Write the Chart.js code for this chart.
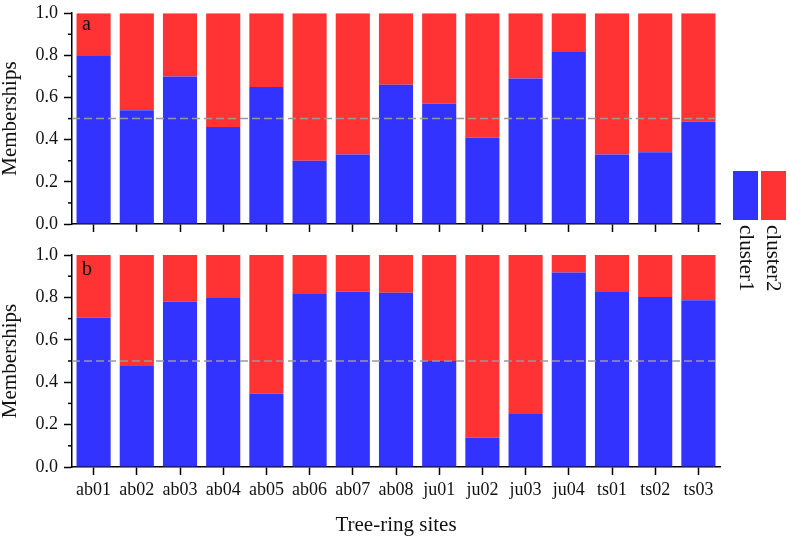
<!DOCTYPE html>
<html><head><meta charset="utf-8">
<script src="https://cdn.jsdelivr.net/npm/chart.js@4.4.1/dist/chart.umd.min.js"></script>
<style>
html,body{margin:0;padding:0;background:#fff;}
#wrap{position:relative;width:789px;height:541px;overflow:hidden;font-family:'Liberation Serif','Times New Roman',serif;}
#c1{position:absolute;left:0;top:0;}
#c2{position:absolute;left:0;top:240px;}
.box{position:absolute;top:171px;width:25px;height:49px;}
.lt{position:absolute;top:225px;writing-mode:vertical-rl;font-size:21px;line-height:21px;color:#111;white-space:nowrap;}
</style></head><body>
<div id="wrap">
<canvas id="c1" width="789" height="240"></canvas>
<canvas id="c2" width="789" height="301"></canvas>
<div class="box" style="left:733px;background:#3333ff"></div>
<div class="box" style="left:761px;background:#ff3333"></div>
<div class="lt" id="lg1" style="left:736px"></div>
<div class="lt" id="lg2" style="left:763px"></div>
</div>
<script>
// ---- data ----
const sites = ['ab01','ab02','ab03','ab04','ab05','ab06','ab07','ab08','ju01','ju02','ju03','ju04','ts01','ts02','ts03'];
const seriesNames = ['cluster1','cluster2'];
const cluster1A = [0.80,0.54,0.70,0.46,0.65,0.30,0.33,0.66,0.57,0.41,0.69,0.82,0.33,0.34,0.485];
const cluster2A = [0.20,0.46,0.30,0.54,0.35,0.70,0.67,0.34,0.43,0.59,0.31,0.18,0.67,0.66,0.515];
const cluster1B = [0.705,0.48,0.78,0.797,0.345,0.82,0.827,0.822,0.50,0.139,0.254,0.918,0.825,0.802,0.787];
const cluster2B = [0.295,0.52,0.22,0.203,0.655,0.18,0.173,0.178,0.50,0.861,0.746,0.082,0.175,0.198,0.213];
const minorYTicks = [0.1,0.3,0.5,0.7,0.9];
const thresholdValue = 0.5;
const panelLabels = ['a','b'];
const yTitle = 'Memberships';
const xTitle = 'Tree-ring sites';

const BLUE = '#3333ff', RED = '#ff3333';
Chart.defaults.font.family = "'Liberation Serif','Times New Roman',serif";
Chart.defaults.color = '#111';

document.getElementById('lg1').textContent = seriesNames[0];
document.getElementById('lg2').textContent = seriesNames[1];

const decor = {
  id: 'decor',
  afterDatasetsDraw(chart, args, opts) {
    const {ctx, chartArea: a, scales: {y}} = chart;
    ctx.save();
    const yp = y.getPixelForValue(thresholdValue);
    ctx.strokeStyle = '#999999'; ctx.lineWidth = 1.5; ctx.setLineDash([8, 4]);
    ctx.beginPath(); ctx.moveTo(a.left, yp); ctx.lineTo(a.right, yp); ctx.stroke();
    ctx.setLineDash([]);
    ctx.strokeStyle = '#000'; ctx.lineWidth = 1.5;
    minorYTicks.forEach(v => {
      const p = y.getPixelForValue(v);
      ctx.beginPath(); ctx.moveTo(a.left - 4, p); ctx.lineTo(a.left, p); ctx.stroke();
    });
    ctx.fillStyle = '#111';
    ctx.font = "20px 'Liberation Serif','Times New Roman',serif";
    ctx.textBaseline = 'alphabetic'; ctx.textAlign = 'left';
    ctx.fillText(opts.label, a.left + 10, a.top + opts.dy);
    ctx.restore();
  }
};

function makeChart(id, c1, c2, label, dy, showX, padTop, xHeight) {
  return new Chart(document.getElementById(id), {
    type: 'bar',
    data: {
      labels: sites,
      datasets: [
        {label: seriesNames[0], data: c1, backgroundColor: BLUE, borderWidth: 0, barPercentage: 0.79, categoryPercentage: 1},
        {label: seriesNames[1], data: c2, backgroundColor: RED, borderWidth: 0, barPercentage: 0.79, categoryPercentage: 1}
      ]
    },
    options: {
      responsive: false,
      animation: false,
      layout: {padding: {top: padTop, right: 69, left: 0, bottom: 0}},
      plugins: {legend: {display: false}, tooltip: {enabled: false}, decor: {label: label, dy: dy}},
      scales: {
        x: {
          stacked: true,
          grid: {display: true, drawOnChartArea: false, drawTicks: true, tickLength: 8, tickColor: '#000', tickWidth: 1.5, offset: false},
          border: {display: true, color: '#000', width: 1.5},
          ticks: {display: showX, font: {size: 18}, color: '#111', padding: 4, maxRotation: 0, autoSkip: false},
          title: {display: showX, text: xTitle, font: {size: 21, lineHeight: 1}, color: '#111', padding: {top: 0, bottom: 5}},
          afterFit: s => { s.height = xHeight; }
        },
        y: {
          stacked: true, min: 0, max: 1,
          grid: {display: true, drawOnChartArea: false, drawTicks: true, tickLength: 8, tickColor: '#000', tickWidth: 1.5},
          border: {display: true, color: '#000', width: 1.5},
          ticks: {stepSize: 0.2, font: {size: 18, lineHeight: 0.8}, color: '#111', padding: 6, callback: v => Number(v).toFixed(1)},
          title: {display: true, text: yTitle, font: {size: 21, lineHeight: 1}, color: '#111', padding: {top: 0, bottom: 0}},
          afterFit: s => { s.width = 72; }
        }
      }
    },
    plugins: [decor]
  });
}

makeChart('c1', cluster1A, cluster2A, panelLabels[0], 17, false, 13, 16);
makeChart('c2', cluster1B, cluster2B, panelLabels[1], 20, true, 15, 74);
</script>
</body></html>
